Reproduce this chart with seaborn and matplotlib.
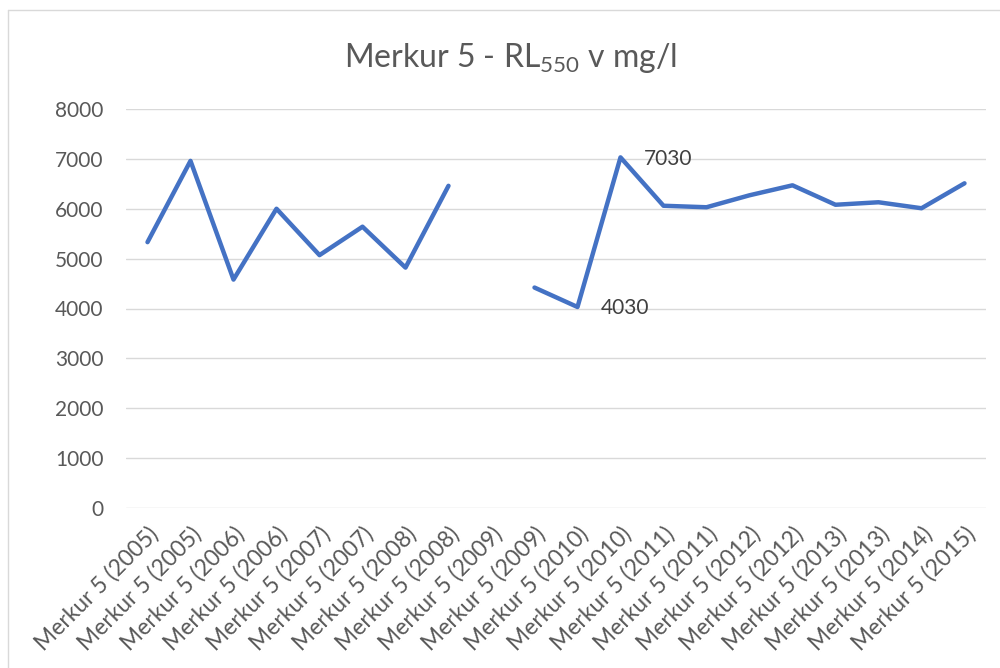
import matplotlib
matplotlib.use("Agg")
import numpy as np
import pandas as pd
import matplotlib.pyplot as plt
import seaborn as sns
from matplotlib.lines import Line2D

# categories on the x axis
labels = [
    "Merkur 5 (2005)", "Merkur 5 (2005)", "Merkur 5 (2006)", "Merkur 5 (2006)",
    "Merkur 5 (2007)", "Merkur 5 (2007)", "Merkur 5 (2008)", "Merkur 5 (2008)",
    "Merkur 5 (2009)", "Merkur 5 (2009)", "Merkur 5 (2010)", "Merkur 5 (2010)",
    "Merkur 5 (2011)", "Merkur 5 (2011)", "Merkur 5 (2012)", "Merkur 5 (2012)",
    "Merkur 5 (2013)", "Merkur 5 (2013)", "Merkur 5 (2014)", "Merkur 5 (2015)",
]
# RL550 v mg/l (None = chybí)
values = [5330, 6960, 4580, 6000, 5070, 5640, 4820, 6460,
          None, 4420, 4030, 7030, 6060, 6030, 6270, 6470,
          6080, 6130, 6010, 6510]
# body s popiskem
labelled = [10, 11]

LINE = "#4472C4"
GRID = "#D9D9D9"
TXT = "#595959"


def setup_style():
    sns.set_theme(style="white")
    plt.rcParams['font.family'] = ['Lato', 'DejaVu Sans']
    plt.rcParams['mathtext.fontset'] = 'custom'
    plt.rcParams['mathtext.rm'] = 'Lato'
    plt.rcParams['mathtext.it'] = 'Lato:italic'
    plt.rcParams['mathtext.bf'] = 'Lato:bold'


def build_frame():
    df = pd.DataFrame({"pos": range(len(labels)), "value": values}, dtype=float)
    # úsek čáry - mezera tam, kde hodnota chybí
    df["segment"] = df["value"].isna().cumsum()
    return df.dropna()


def main():
    setup_style()
    df = build_frame()

    fig = plt.figure(figsize=(10, 6.68), dpi=100)
    ax = fig.add_axes([0.126, 1 - 508 / 668, 0.86, 399 / 668])

    sns.lineplot(data=df, x="pos", y="value", units="segment", estimator=None,
                 color=LINE, linewidth=3.2, solid_capstyle="round",
                 solid_joinstyle="round", ax=ax)

    for i in labelled:
        ax.annotate(f"{values[i]}", (i, values[i]), xytext=(17, -1),
                    textcoords="offset points", ha="left", va="center",
                    fontsize=15, color="#404040")

    ax.set_xlim(-0.5, len(labels) - 0.5)
    ax.set_ylim(0, 8000)
    ax.set_yticks(range(0, 8001, 1000))
    ax.set_xticks(range(len(labels)))
    ax.set_xticklabels(labels, rotation=45, ha="right", rotation_mode="anchor")
    ax.tick_params(axis="both", length=0, labelsize=15, colors=TXT)
    ax.tick_params(axis="x", labelsize=16.5, pad=11)
    ax.tick_params(axis="y", pad=16)
    ax.set_xlabel("")
    ax.set_ylabel("")
    ax.grid(axis="y", color=GRID, linewidth=1)
    ax.set_axisbelow(True)
    for s in ax.spines.values():
        s.set_visible(False)

    fig.text(0.511, 1 - 67 / 668, r"Merkur 5 - RL$_{\mathrm{550}}$ v mg/l",
             ha="center", va="baseline", fontsize=23, color=TXT)

    # rámeček grafu
    fig.add_artist(Line2D([8 / 1000, 1], [1 - 10 / 668] * 2, color=GRID, lw=1))
    fig.add_artist(Line2D([8 / 1000] * 2, [0, 1 - 10 / 668], color=GRID, lw=1))

    fig.savefig("out.png", dpi=100)
    plt.close(fig)


if __name__ == "__main__":
    main()
